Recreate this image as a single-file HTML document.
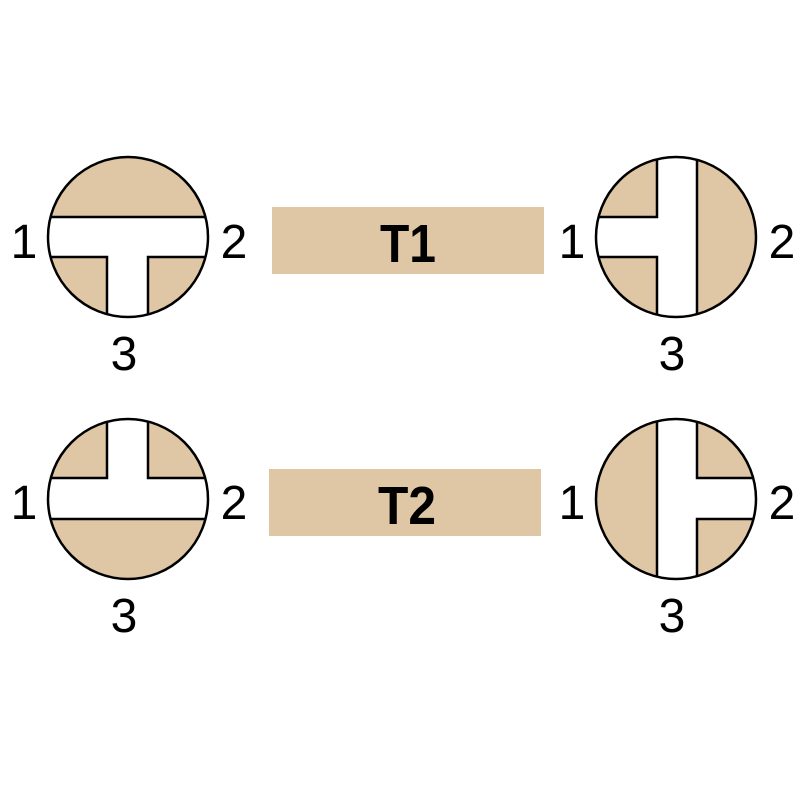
<!DOCTYPE html>
<html><head><style>body{margin:0;background:#fff}svg{display:block}</style></head>
<body>
<svg width="800" height="800" viewBox="0 0 800 800" xmlns="http://www.w3.org/2000/svg" font-family="Liberation Sans, sans-serif">
<defs>
<clipPath id="c1"><circle cx="128" cy="237" r="80"/></clipPath>
<clipPath id="c2"><circle cx="676" cy="237" r="80"/></clipPath>
<clipPath id="c3"><circle cx="128" cy="499" r="80"/></clipPath>
<clipPath id="c4"><circle cx="676" cy="499" r="80"/></clipPath>
</defs>
<g fill="#dfc6a4">
<circle cx="128" cy="237" r="80"/><circle cx="676" cy="237" r="80"/>
<circle cx="128" cy="499" r="80"/><circle cx="676" cy="499" r="80"/>
<rect x="272" y="207" width="272" height="67"/>
<rect x="269" y="469" width="272" height="67"/>
</g>
<g stroke="#000" stroke-width="2.5" fill="#fff">
<path clip-path="url(#c1)" d="M40 217H220V257H148V330H107V257H40Z"/>
<path clip-path="url(#c2)" d="M657 150H697V330H657V257H590V217H657Z"/>
<path clip-path="url(#c3)" d="M40 478H107V410H148V478H220V519H40Z"/>
<path clip-path="url(#c4)" d="M657 410H697V478H770V519H697V590H657Z"/>
</g>
<g fill="none" stroke="#000" stroke-width="2.5">
<circle cx="128" cy="237" r="80"/><circle cx="676" cy="237" r="80"/>
<circle cx="128" cy="499" r="80"/><circle cx="676" cy="499" r="80"/>
</g>
<g font-size="48" text-anchor="middle" fill="#000">
<text x="24" y="258">1</text><text x="234" y="258">2</text><text x="124" y="370">3</text>
<text x="572" y="258">1</text><text x="782" y="258">2</text><text x="672" y="370">3</text>
<text x="24" y="519">1</text><text x="234" y="519">2</text><text x="124" y="632">3</text>
<text x="572" y="519">1</text><text x="782" y="519">2</text><text x="672" y="632">3</text>
<text x="408" y="262" font-weight="bold" font-size="54" textLength="56" lengthAdjust="spacingAndGlyphs">T1</text>
<text x="407" y="524" font-weight="bold" font-size="54" textLength="58" lengthAdjust="spacingAndGlyphs">T2</text>
</g>
</svg>
</body></html>
